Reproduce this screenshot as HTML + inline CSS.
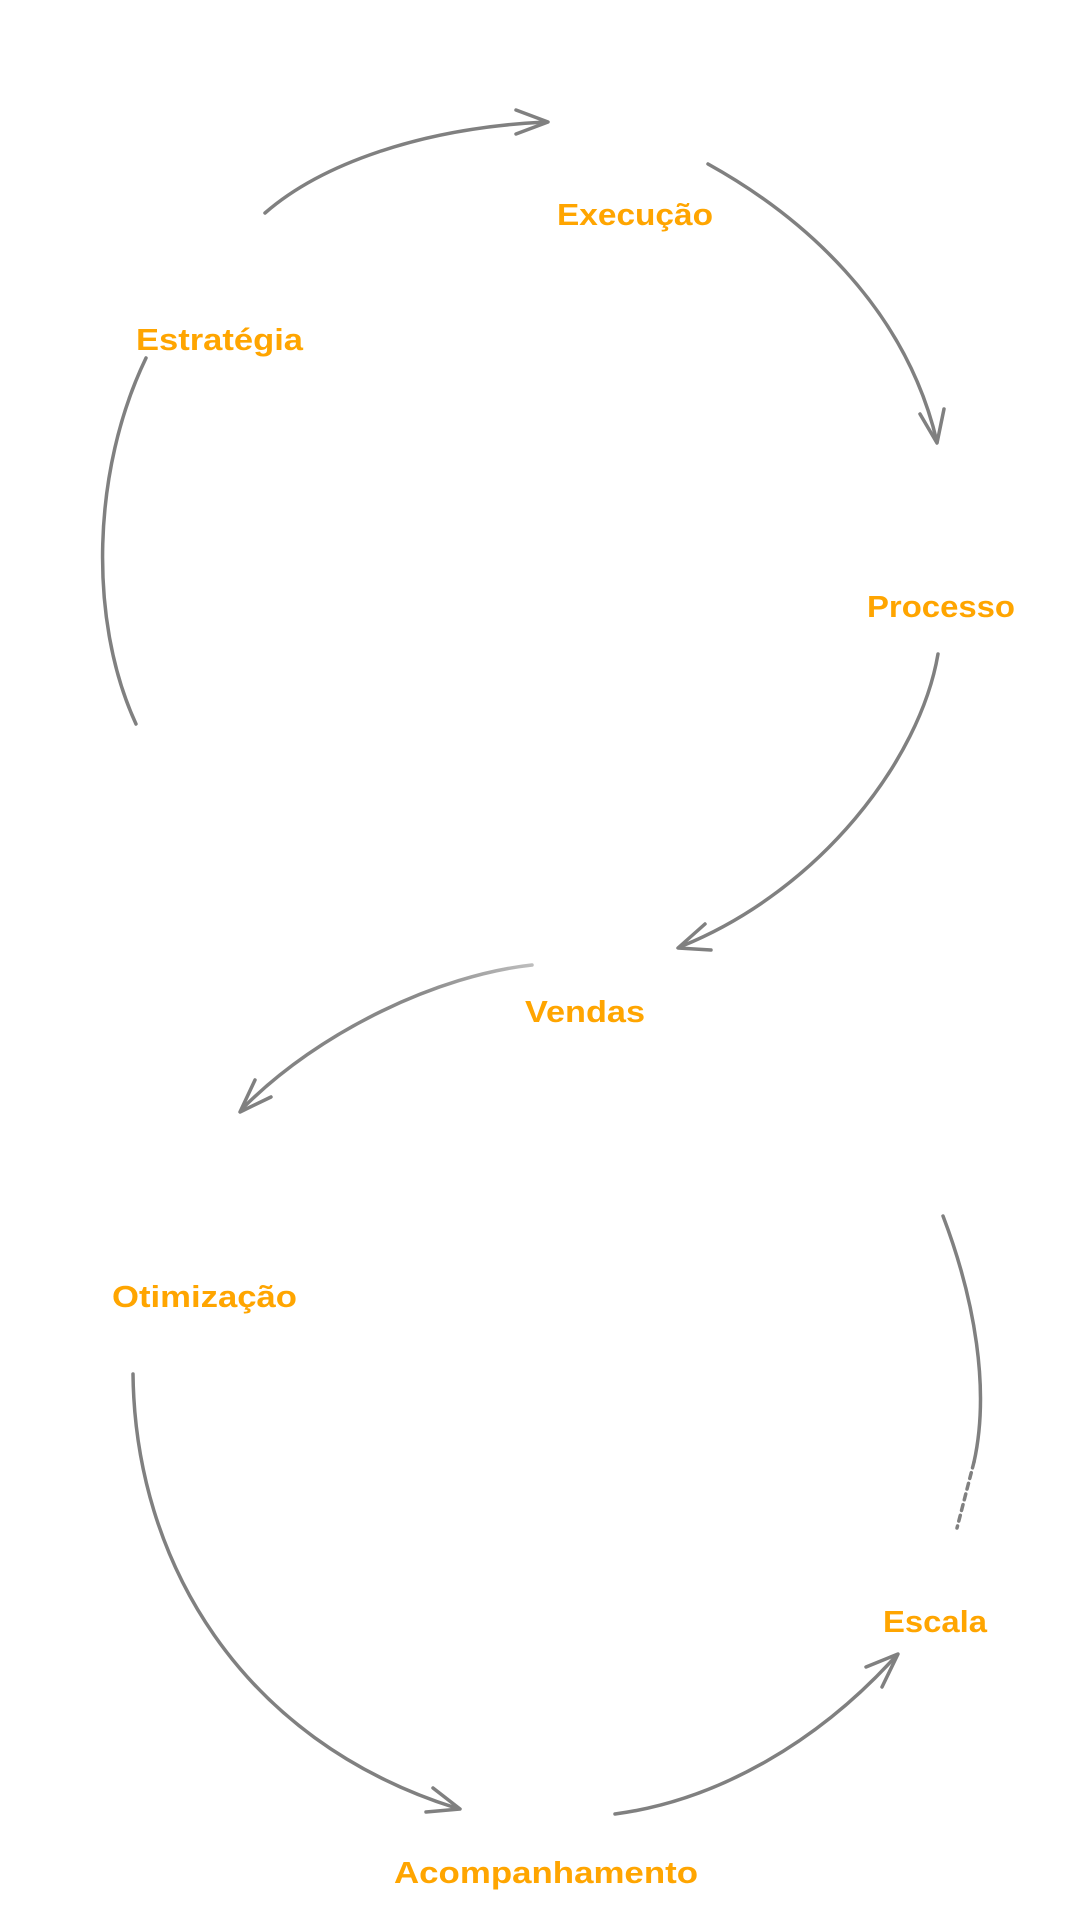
<!DOCTYPE html>
<html>
<head>
<meta charset="utf-8">
<style>
  html, body { margin: 0; padding: 0; background: #ffffff; }
  body { width: 1080px; height: 1920px; overflow: hidden; }
  svg { display: block; }
  .lbl { font-family: "Liberation Sans", Arial, sans-serif; font-weight: bold; font-size: 31px; fill: #FFA500; }
  .ln { fill: none; stroke: #808080; stroke-width: 3.5; stroke-linecap: round; stroke-linejoin: round; }
</style>
</head>
<body>
<svg width="1080" height="1920" viewBox="0 0 1080 1920" xmlns="http://www.w3.org/2000/svg">
  <defs>
    <linearGradient id="fade" gradientUnits="userSpaceOnUse" x1="532" y1="965" x2="241" y2="1110">
      <stop offset="0" stop-color="#bdbdbd"/>
      <stop offset="0.35" stop-color="#8a8a8a"/>
      <stop offset="1" stop-color="#808080"/>
    </linearGradient>
  </defs>

  <!-- Estratégia -> Execução -->
  <path class="ln" d="M265,213 C320,165 420,128 546,122"/>
  <path class="ln" d="M516,110 L548,122 L516,134"/>

  <!-- Execução -> Processo -->
  <path class="ln" d="M708,164 C800,215 905,305 937,442"/>
  <path class="ln" d="M920,414 L937,443 L944,409"/>

  <!-- left arc under Estratégia -->
  <path class="ln" d="M146,358 C92,470 88,620 136,724"/>

  <!-- Processo -> Vendas -->
  <path class="ln" d="M938,654 C920,760 820,890 682,946"/>
  <path class="ln" d="M705,924 L678,948 L711,950"/>

  <!-- Vendas -> Otimização -->
  <path class="ln" d="M532,965 C440,975 320,1030 242,1109" style="stroke:url(#fade)"/>
  <path class="ln" d="M255,1080 L240,1112 L271,1097"/>

  <!-- Otimização -> Acompanhamento -->
  <path class="ln" d="M133,1374 C135,1560 240,1740 456,1808"/>
  <path class="ln" d="M433,1788 L460,1809 L426,1812"/>

  <!-- Acompanhamento -> Escala -->
  <path class="ln" d="M615,1814 C720,1800 820,1740 896,1656"/>
  <path class="ln" d="M866,1667 L898,1654 L882,1687"/>

  <!-- right arc above Escala -->
  <path class="ln" d="M943,1216 C975,1300 990,1390 974,1462"/>
  <path class="ln" d="M974,1462 L957,1528" style="stroke-dasharray:6 5"/>

  <!-- Labels -->
  <text class="lbl" x="557" y="225" textLength="156" lengthAdjust="spacingAndGlyphs">Execução</text>
  <text class="lbl" x="136" y="350" textLength="167" lengthAdjust="spacingAndGlyphs">Estratégia</text>
  <text class="lbl" x="867" y="617" textLength="148" lengthAdjust="spacingAndGlyphs">Processo</text>
  <text class="lbl" x="525" y="1022" textLength="120" lengthAdjust="spacingAndGlyphs">Vendas</text>
  <text class="lbl" x="112" y="1307" textLength="185" lengthAdjust="spacingAndGlyphs">Otimização</text>
  <text class="lbl" x="883" y="1632" textLength="104" lengthAdjust="spacingAndGlyphs">Escala</text>
  <text class="lbl" x="394" y="1883" textLength="304" lengthAdjust="spacingAndGlyphs">Acompanhamento</text>
</svg>
</body>
</html>
